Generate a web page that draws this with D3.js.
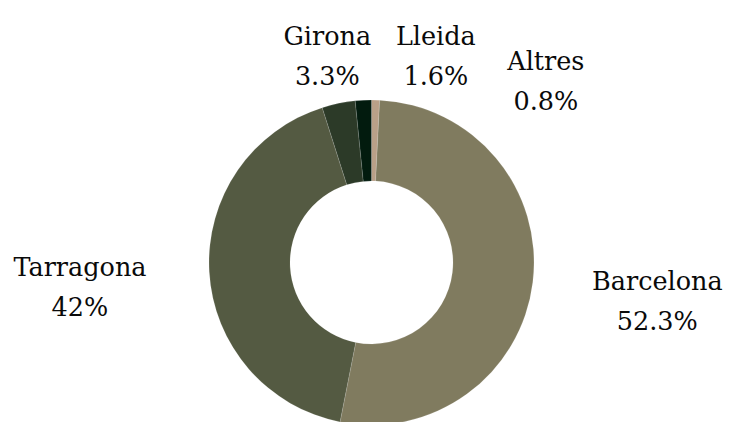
<!DOCTYPE html>
<html>
<head>
<meta charset="utf-8">
<script src="https://cdn.jsdelivr.net/npm/d3@7"></script>
<style>
  html, body { margin: 0; padding: 0; background: #fff; }
  svg { display: block; }
</style>
</head>
<body>
<div id="chart"></div>
<script>
// data
const regions = ['Altres', 'Barcelona', 'Tarragona', 'Girona', 'Lleida'];
const shares = [0.8, 52.3, 42, 3.3, 1.6];
const sliceColors = ['#b9a088', '#807b5f', '#545a42', '#2c3a28', '#021b0e'];

const width = 729;
const height = 422;
const cx = 371.5;
const cy = 262.5;
const outerR = 162.5;
const innerR = 81.5;
const labelR = 292;

// plotly-ish outside label shifts (to avoid overlap at the top)
const labelNudge = {
  Barcelona: [-4, 3],
  Tarragona: [0, 8],
  Girona: [15, 79],
  Lleida: [79, 85],
  Altres: [167, 110]
};

const data = regions.map((r, i) => ({region: r, value: shares[i], color: sliceColors[i]}));

const svg = d3.select('#chart').append('svg')
  .attr('width', width)
  .attr('height', height);

const g = svg.append('g').attr('transform', `translate(${cx},${cy})`);

const pie = d3.pie().sort(null).value(d => d.value);
const arc = d3.arc().innerRadius(innerR).outerRadius(outerR);
const arcs = pie(data);

g.selectAll('.slice').data(arcs).enter().append('path')
  .attr('class', 'slice')
  .attr('d', arc)
  .attr('fill', d => d.data.color)
  .attr('stroke', 'rgba(255,255,255,0.35)')
  .attr('stroke-width', 0.4);

// LABELS
const labelArc = d3.arc().innerRadius(labelR).outerRadius(labelR);
const labels = g.selectAll('.label').data(arcs).enter().append('text')
  .attr('class', 'label')
  .attr('text-anchor', 'middle')
  .attr('font-family', '"DejaVu Serif", serif')
  .attr('font-size', 25.5)
  .attr('fill', '#0a0a0a')
  .attr('transform', d => {
    const [x, y] = labelArc.centroid(d);
    const [dx, dy] = labelNudge[d.data.region] || [0, 0];
    return `translate(${x + dx},${y + dy})`;
  });

labels.append('tspan').attr('x', 0).attr('y', -11).text(d => d.data.region);
labels.append('tspan').attr('x', 0).attr('y', 29).text(d => d.data.value + '%');
</script>
</body>
</html>
